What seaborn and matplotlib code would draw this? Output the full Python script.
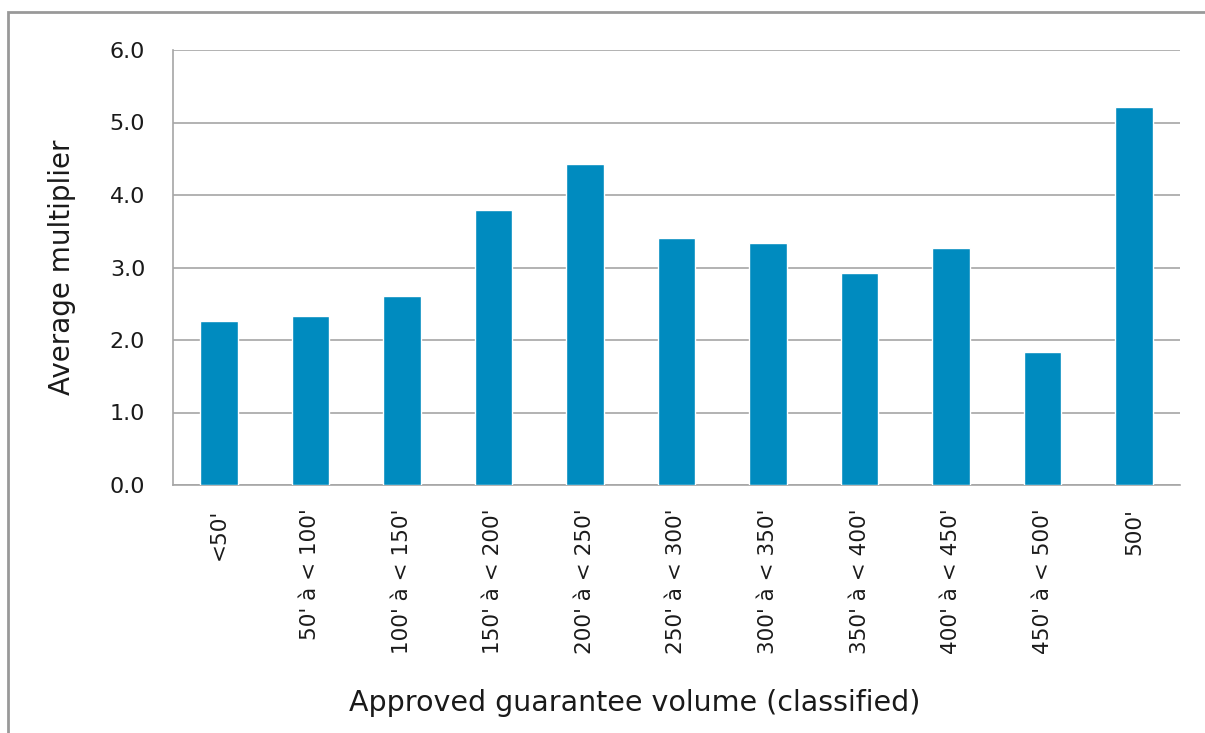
import numpy as np
import pandas as pd
import matplotlib
matplotlib.use("Agg")
import matplotlib.pyplot as plt
from matplotlib.patches import Rectangle
import seaborn as sns

# Values
categories = ["<50'", "50' à < 100'", "100' à < 150'", "150' à < 200'", "200' à < 250'",
              "250' à < 300'", "300' à < 350'", "350' à < 400'", "400' à < 450'",
              "450' à < 500'", "500'"]
multipliers = [2.26, 2.33, 2.61, 3.79, 4.43, 3.41, 3.34, 2.92, 3.27, 1.83, 5.21]
y_ticks = [0, 1, 2, 3, 4, 5, 6]

bar_color = "#008bbf"
grid_color = "#a6a6a6"
text_color = "#1a1a1a"

sns.set_style("white")
plt.rcParams['font.family'] = ['DejaVu Sans']

df = pd.DataFrame({"category": categories, "multiplier": multipliers})

fig = plt.figure(figsize=(12.05, 7.33), dpi=100)
ax = fig.add_axes([173 / 1205, 1 - 485 / 733, (1180 - 173) / 1205, (485 - 50) / 733])

sns.barplot(data=df, x="category", y="multiplier", color=bar_color, width=0.41,
            saturation=1, ax=ax, zorder=3)

ax.set_ylim(0, 6)
ax.set_xlim(-0.5, len(categories) - 0.5)
ax.set_yticks(y_ticks)
ax.set_yticklabels([f"{v:.1f}" for v in y_ticks], fontsize=16, color=text_color)
ax.yaxis.grid(True, color=grid_color, linewidth=1.2, zorder=0)
ax.set_axisbelow(True)

# category labels centred, tick marks on the boundaries
ax.set_xticks(range(len(categories)))
ax.set_xticklabels(categories, rotation=90, fontsize=15.5, color=text_color, va="top")
ax.tick_params(axis="x", which="major", length=0, pad=17)
ax.set_xticks(np.arange(-0.5, len(categories), 1), minor=True)
ax.tick_params(axis="x", which="minor", length=8, width=1.2, color=grid_color, direction="out")
ax.tick_params(axis="y", length=8, width=1.2, color=grid_color, direction="out", pad=12)

for side in ["top", "right"]:
    ax.spines[side].set_visible(False)
for side in ["left", "bottom"]:
    ax.spines[side].set_color(grid_color)
    ax.spines[side].set_linewidth(1.2)

ax.set_xlabel("Approved guarantee volume (classified)", fontsize=20.5, color=text_color)
ax.set_ylabel("Average multiplier", fontsize=20, color=text_color)
ax.xaxis.set_label_coords((635 - 173) / 1007, 1 - (703 - 50) / 435, transform=ax.transAxes)
ax.yaxis.set_label_coords((62 - 173) / 1007, 0.5, transform=ax.transAxes)
ax.xaxis.label.set_va("center")
ax.yaxis.label.set_va("center")

# outer frame of the original figure box
fig.patches.append(Rectangle((8 / 1205, -0.1), 1.2, 1 - 12 / 733 + 0.1, transform=fig.transFigure,
                             fill=False, edgecolor="#999999", linewidth=2))

fig.savefig("out.png", dpi=100)
